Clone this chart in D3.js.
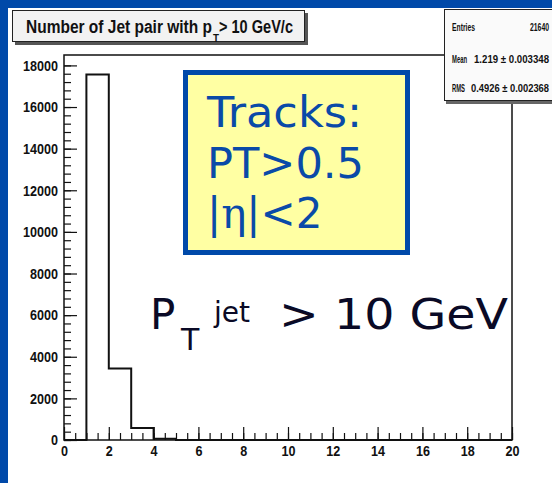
<!DOCTYPE html>
<html><head><meta charset="utf-8">
<script src="https://cdn.jsdelivr.net/npm/d3@7"></script>
<style>body{margin:0;background:#0049a9;} svg{display:block}</style>
</head><body><svg id="c" width="552" height="483"></svg>
<script>
const binLow  = [0,1,2,3,4,5,6,7,8,9,10,11,12,13,14,15,16,17,18,19];
const binHigh = [1,2,3,4,5,6,7,8,9,10,11,12,13,14,15,16,17,18,19,20];
const counts  = [0,17560,3430,580,65,5,0,0,0,0,0,0,0,0,0,0,0,0,0,0];
const xTicks = [0,2,4,6,8,10,12,14,16,18,20];
const yTicks = [0,2000,4000,6000,8000,10000,12000,14000,16000,18000];
const statsLabels = ["Entries","Mean","RMS"];
const statsValues = ["21640","1.219 \u00b1 0.003348","0.4926 \u00b1 0.002368"];
const titleMain = "Number of Jet pair with p", titleSub = "T", titleRest = "> 10 GeV/c";
const boxLines = ["Tracks:", "PT>0.5"];

const svg = d3.select("#c");
const ROOT = "'Liberation Sans', Arial, Helvetica, sans-serif";
const VER = "'DejaVu Sans', Verdana, sans-serif";
const blue = "#0049a9";

// white page area
svg.append("rect").attr("x",8).attr("y",8).attr("width",552).attr("height",483).attr("fill","#ffffff");

const x = d3.scaleLinear().domain([0,20]).range([64,512]);
const y = d3.scaleLinear().domain([0,18500]).range([440,55]);

// histogram
const pts = [[0,0]];
binLow.forEach((lo,i)=>{ pts.push([lo,counts[i]]); pts.push([binHigh[i],counts[i]]); });
pts.push([20,0]);
svg.append("path").attr("d", d3.line().x(d=>x(d[0])).y(d=>y(d[1]))(pts))
  .attr("fill","none").attr("stroke","#111").attr("stroke-width",2);

// minor ticks
const gxm = svg.append("g").attr("transform","translate(0,440)")
  .call(d3.axisBottom(x).tickValues(x.ticks(40)).tickSizeInner(-7).tickSizeOuter(0).tickFormat(""));
const gym = svg.append("g").attr("transform","translate(64,0)")
  .call(d3.axisLeft(y).tickValues(d3.range(0,18001,400)).tickSizeInner(-7).tickSizeOuter(0).tickFormat(""));
// major
const gx = svg.append("g").attr("transform","translate(0,440)")
  .call(d3.axisBottom(x).tickValues(xTicks).tickSizeInner(-13).tickSizeOuter(0).tickPadding(5).tickFormat(d3.format("d")));
const gy = svg.append("g").attr("transform","translate(64,0)")
  .call(d3.axisLeft(y).tickValues(yTicks).tickSizeInner(-13).tickSizeOuter(0).tickPadding(6).tickFormat(d3.format("d")));
[gxm,gym,gx,gy].forEach(g=>{ g.select(".domain").remove(); g.selectAll("line").attr("stroke","#111").attr("stroke-width",1.2); });
[gx,gy].forEach(g=>{
  g.selectAll("text").attr("font-family",ROOT).attr("font-weight","bold").attr("font-size",15).attr("fill","#111")
   .attr("textLength",function(){return this.textContent.length*7;}).attr("lengthAdjust","spacingAndGlyphs");
});

// frame
svg.append("rect").attr("x",x(0)).attr("y",y(18500)).attr("width",x(20)-x(0)).attr("height",y(0)-y(18500))
  .attr("fill","none").attr("stroke","#111").attr("stroke-width",1.5);

// title box
svg.append("rect").attr("x",15).attr("y",13).attr("width",293).attr("height",32).attr("fill","#555");
svg.append("rect").attr("x",12.5).attr("y",10.5).attr("width",292).attr("height",31).attr("fill","#f2f2f2").attr("stroke","#222").attr("stroke-width",1);
const tt = svg.append("g").attr("font-family",ROOT).attr("font-weight","bold").attr("fill","#111");
tt.append("text").attr("x",26).attr("y",33).attr("font-size",18).text(titleMain).attr("textLength",186).attr("lengthAdjust","spacingAndGlyphs");
tt.append("text").attr("x",213).attr("y",42).attr("font-size",11).text(titleSub).attr("textLength",6).attr("lengthAdjust","spacingAndGlyphs");
tt.append("text").attr("x",219).attr("y",33).attr("font-size",18).text(titleRest).attr("textLength",74).attr("lengthAdjust","spacingAndGlyphs");

// stats box
svg.append("rect").attr("x",446).attr("y",12).attr("width",120).attr("height",92).attr("fill","#666");
svg.append("rect").attr("x",444.5).attr("y",9.5).attr("width",120).attr("height",91).attr("fill","#fafafa").attr("stroke","#222").attr("stroke-width",1);
const st = svg.append("g").attr("font-family",ROOT).attr("font-weight","bold").attr("font-size",10).attr("fill","#111");
const rowY = [31,63,92];
const labelLen = [23,15,13], valueLen = [19,75,78];
statsLabels.forEach((l,i)=>{
  st.append("text").attr("x",452).attr("y",rowY[i]).text(l).attr("textLength",labelLen[i]).attr("lengthAdjust","spacingAndGlyphs");
  st.append("text").attr("x",549).attr("y",rowY[i]).attr("text-anchor","end").text(statsValues[i])
    .attr("textLength",valueLen[i]).attr("lengthAdjust","spacingAndGlyphs");
});

// yellow box
svg.append("rect").attr("x",185.5).attr("y",72.5).attr("width",222).attr("height",180)
  .attr("fill","#ffffa3").attr("stroke",blue).attr("stroke-width",5);
const yb = svg.append("g").attr("font-family",VER).attr("font-size",42).attr("fill","#0a4aa8");
yb.append("text").attr("x",207).attr("y",127).text(boxLines[0]).attr("textLength",155).attr("lengthAdjust","spacingAndGlyphs");
yb.append("text").attr("x",207).attr("y",178).text(boxLines[1]).attr("textLength",157).attr("lengthAdjust","spacingAndGlyphs");
const eta = yb.append("text").attr("x",207).attr("y",228);
eta.append("tspan").text("|");
eta.append("tspan").attr("font-family","'DejaVu Serif', serif").text("\u03b7");
eta.append("tspan").text("|<2");

// P_T^jet annotation
const pa = svg.append("g").attr("font-family",VER).attr("fill","#0a0a26");
pa.append("text").attr("x",150).attr("y",329).attr("font-size",42).text("P");
pa.append("text").attr("x",181).attr("y",350).attr("font-size",30).text("T");
pa.append("text").attr("x",214).attr("y",322).attr("font-size",28).text("jet");
pa.append("text").attr("x",279).attr("y",329).attr("font-size",42).text("> 10 GeV").attr("textLength",229).attr("lengthAdjust","spacingAndGlyphs");
</script></body></html>
